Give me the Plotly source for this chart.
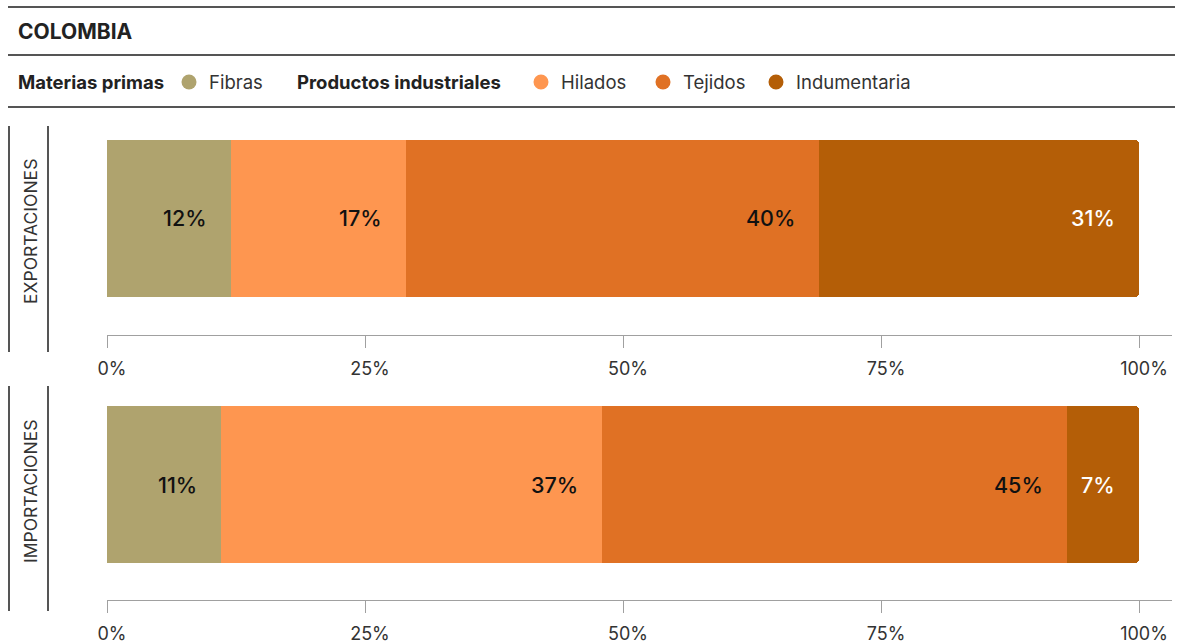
import plotly.graph_objects as go

# ---- data ----
title = "COLOMBIA"
flows = ["EXPORTACIONES", "IMPORTACIONES"]
categories = ["Fibras", "Hilados", "Tejidos", "Indumentaria"]
groups = ["Materias primas", "Productos industriales", "Productos industriales", "Productos industriales"]
exportaciones = [12, 17, 40, 31]
importaciones = [11, 37, 45, 7]
tick_vals = [0, 25, 50, 75, 100]
tick_text = ["0%", "25%", "50%", "75%", "100%"]

colors = ["#AFA36E", "#FE9650", "#E07124", "#B45E07"]
label_colors = ["#111111", "#111111", "#111111", "#FFFFFF"]

W, H = 1178, 644
FONT = "Inter"
TXT = "#222222"


def px(x):
    return x / W


def py(y):
    return 1 - y / H


fig = go.Figure()
series = [exportaciones, importaciones]
axes = [("x", "y"), ("x2", "y2")]
for si, vals in enumerate(series):
    xa, ya = axes[si]
    for ci, cat in enumerate(categories):
        fig.add_trace(go.Bar(
            x=[vals[ci]], y=[0], width=[1], orientation="h", name=cat,
            marker=dict(color=colors[ci], line=dict(width=0)),
            xaxis=xa, yaxis=ya, showlegend=False, hoverinfo="skip",
        ))

annotations = []
# value labels
for si, vals in enumerate(series):
    xa, ya = axes[si]
    cum = 0
    for ci, v in enumerate(vals):
        cum += v
        annotations.append(dict(
            x=cum, y=0, xref=xa, yref=ya, text=f"{v}%", showarrow=False,
            xanchor="right", yanchor="middle", xshift=-22,
            font=dict(family=FONT, size=21.5, color=label_colors[ci], weight=500),
        ))

# domains (pixels)
dom_top = [(140, 335), (406, 600)]
bar_h = 157

layout_axes = {}
for si in range(2):
    t, b = dom_top[si]
    span = (b - t) / bar_h
    xname = "xaxis" if si == 0 else "xaxis2"
    yname = "yaxis" if si == 0 else "yaxis2"
    layout_axes[xname] = dict(
        domain=[px(107), px(1172)], range=[0, 100 * (1172 - 107) / 1032],
        anchor="y" if si == 0 else "y2", automargin=False,
        showline=True, linecolor="#A0A0A0", linewidth=1,
        ticks="outside", ticklen=12, tickcolor="#A0A0A0", tickwidth=1,
        tickvals=tick_vals, ticktext=tick_text, showgrid=False, zeroline=False,
        tickfont=dict(family=FONT, size=18, color="#333333"),
        ticklabelshift=5, ticklabelstandoff=5, fixedrange=True,
    )
    layout_axes[yname] = dict(
        domain=[py(b), py(t)], range=[0.5 - span, 0.5], visible=False,
        anchor="x" if si == 0 else "x2", fixedrange=True, automargin=False,
    )

# flow labels (rotated)
flow_centers = [232, 492]
for si, f in enumerate(flows):
    annotations.append(dict(
        x=px(30), y=py(flow_centers[si]), xref="paper", yref="paper", text=f,
        textangle=-90, showarrow=False, xanchor="center", yanchor="middle",
        font=dict(family=FONT, size=17.5, color="#333333"),
    ))

# header
annotations.append(dict(
    x=px(19), y=py(31), xref="paper", yref="paper", text=f"<b>{title}</b>",
    showarrow=False, xanchor="left", yanchor="middle", xshift=-3,
    font=dict(family=FONT, size=21, color=TXT),
))

shapes = []
# horizontal rules
for yy in [7, 55, 107]:
    shapes.append(dict(type="line", xref="paper", yref="paper",
                       x0=px(8), x1=px(1175), y0=py(yy), y1=py(yy),
                       line=dict(color="#555555", width=2)))
# vertical rules
for (t, b) in [(126, 352), (386, 611)]:
    for xx in [9, 48]:
        shapes.append(dict(type="line", xref="paper", yref="paper",
                           x0=px(xx), x1=px(xx), y0=py(t), y1=py(b),
                           line=dict(color="#555555", width=2)))

# custom legend
legend_y = 82
group_pos = {"Materias primas": 19, "Productos industriales": 298}
dot_pos = [189, 541, 663, 776]
seen = set()
for ci, cat in enumerate(categories):
    g = groups[ci]
    if g not in seen:
        seen.add(g)
        annotations.append(dict(
            x=px(group_pos[g]), y=py(legend_y), xref="paper", yref="paper",
            text=f"<b>{g}</b>", showarrow=False, xanchor="left", yanchor="middle",
            xshift=-3, font=dict(family=FONT, size=18.5, color=TXT),
        ))
    cx = dot_pos[ci]
    r = 7.5
    shapes.append(dict(type="circle", xref="paper", yref="paper",
                       x0=px(cx - r), x1=px(cx + r), y0=py(legend_y + r), y1=py(legend_y - r),
                       fillcolor=colors[ci], line=dict(width=0)))
    annotations.append(dict(
        x=px(cx + 21), y=py(legend_y), xref="paper", yref="paper",
        text=cat, showarrow=False, xanchor="left", yanchor="middle",
        xshift=-3, font=dict(family=FONT, size=18.5, color="#333333"),
    ))

fig.update_layout(
    width=W, height=H, margin=dict(l=0, r=0, t=0, b=0, pad=0, autoexpand=False),
    paper_bgcolor="white", plot_bgcolor="white",
    barmode="stack", barcornerradius=4, showlegend=False,
    annotations=annotations, shapes=shapes,
    font=dict(family=FONT, color=TXT),
    **layout_axes,
)

fig.write_html(
    "out.html",
    config={"displayModeBar": False},
    post_script="document.body.style.margin='0px';document.body.style.overflow='hidden';",
)
